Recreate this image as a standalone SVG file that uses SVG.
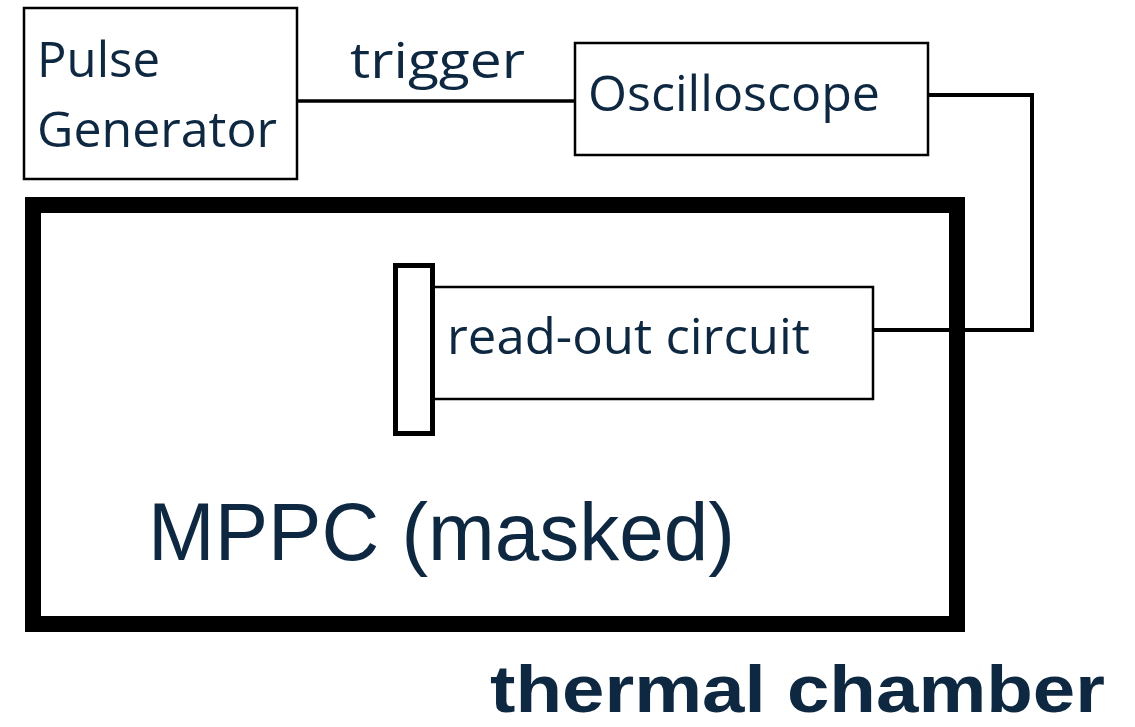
<svg xmlns="http://www.w3.org/2000/svg" width="1135" height="727" viewBox="0 0 1135 727">
<style>
.box{fill:#fff;stroke:#000;stroke-width:2.5}
.t{font-family:"Open Sans","Noto Sans",sans-serif;fill:#0e2841;font-size:50px}
.conn{fill:none;stroke:#000;stroke-width:4}
</style>
<rect width="1135" height="727" fill="#fff"/>
<g id="chamber">
<rect x="33" y="205" width="924" height="419" fill="none" stroke="#000" stroke-width="16"/>
<text x="148" y="560" font-family="'Liberation Sans',Arial,sans-serif" font-size="82" fill="#0e2841" textLength="587" lengthAdjust="spacingAndGlyphs">MPPC (masked)</text>
<text x="490" y="712" font-family="'Liberation Sans',Arial,sans-serif" font-weight="bold" font-size="66" fill="#0e2841" textLength="615" lengthAdjust="spacingAndGlyphs">thermal chamber</text>
</g>
<g id="pulse-generator">
<rect class="box" x="24" y="8" width="273" height="171"/>
<text class="t" x="37" y="77" textLength="123" lengthAdjust="spacingAndGlyphs">Pulse</text>
<text class="t" x="37" y="147" textLength="240" lengthAdjust="spacingAndGlyphs">Generator</text>
</g>
<g id="oscilloscope">
<rect class="box" x="575" y="43" width="353" height="112"/>
<text class="t" x="588" y="111" textLength="292" lengthAdjust="spacingAndGlyphs">Oscilloscope</text>
</g>
<g id="readout">
<rect class="box" x="433" y="287" width="440" height="112"/>
<text class="t" x="447" y="354" textLength="363" lengthAdjust="spacingAndGlyphs">read-out circuit</text>
</g>
<g id="mppc">
<rect x="395.5" y="265.5" width="37" height="168" fill="#fff" stroke="#000" stroke-width="5"/>
</g>
<g id="connectors">
<line class="conn" x1="297" y1="101" x2="575" y2="101" style="stroke-width:3.5"/>
<text class="t" x="350" y="78" textLength="175" lengthAdjust="spacingAndGlyphs">trigger</text>
<polyline class="conn" points="928,95 1032,95 1032,330 873,330"/>
</g>
</svg>
